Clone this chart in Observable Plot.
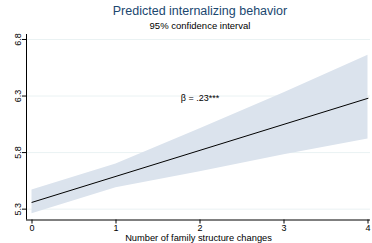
<!DOCTYPE html>
<html>
<head>
<meta charset="utf-8">
<script src="https://cdn.jsdelivr.net/npm/d3@7"></script>
<script src="https://cdn.jsdelivr.net/npm/@observablehq/plot@0.6"></script>
<style>
  html, body { margin: 0; padding: 0; background: #fff; }
  body { width: 372px; height: 243px; overflow: hidden; font-family: "Liberation Sans", Arial, sans-serif; }
  #title { height: 19px; line-height: 23px; padding-left: 28px; text-align: center; font-size: 12.5px; color: #1a476f; }
  #subtitle { height: 11px; line-height: 14px; padding-left: 28px; text-align: center; font-size: 9.5px; color: #000; }
  #chart svg { display: block; }
</style>
</head>
<body>
<div id="title">Predicted internalizing behavior</div>
<div id="subtitle">95% confidence interval</div>
<div id="chart"></div>
<script>
const changes = [0, 1, 2, 3, 4];
const predicted = [5.36, 5.59, 5.82, 6.05, 6.28];
const lower = [5.26, 5.49, 5.63, 5.78, 5.92];
const upper = [5.47, 5.70, 6.01, 6.33, 6.66];
const yTicks = [5.3, 5.8, 6.3, 6.8];
const xTicks = [0, 1, 2, 3, 4];
const annotation = "β = .23***";
const annotationAt = {x: 2, y: 6.28};
const xTitle = "Number of family structure changes";

const data = changes.map((c, i) => ({x: c, y: predicted[i], lo: lower[i], hi: upper[i]}));
const yMin = 5.204, yMax = 6.844;

const chart = Plot.plot({
  width: 372,
  height: 213,
  marginTop: 4,
  marginBottom: 23.5,
  marginLeft: 26,
  marginRight: 2,
  style: {fontFamily: "Liberation Sans, Arial, sans-serif", fontSize: "9px", color: "#000", background: "#fff"},
  x: {domain: [0, 4], insetLeft: 5.5, insetRight: 2.5},
  y: {domain: [yMin, yMax]},
  marks: [
    Plot.gridY(yTicks, {stroke: "#eaf2f3", strokeOpacity: 1, strokeWidth: 1}),
    Plot.areaY(data, {x: "x", y1: "lo", y2: "hi", fill: "#dbe3ed", fillOpacity: 1}),
    Plot.lineY(data, {x: "x", y: "y", stroke: "#000", strokeWidth: 1}),
    Plot.text([annotation], {x: annotationAt.x, y: annotationAt.y, text: d => d, fontSize: 9, fill: "#000"}),
    Plot.axisY(yTicks, {tickFormat: d => d.toFixed(1), tickSize: 4, tickPadding: 2, tickRotate: -90, label: null, stroke: "#000"}),
    Plot.axisX(xTicks, {tickFormat: d => String(d), tickSize: 4, tickPadding: 1, label: null, stroke: "#000"}),
    Plot.ruleX([0], {y1: yMin, y2: yMax, dx: -5.5, stroke: "#000"}),
    Plot.ruleY([yMin], {stroke: "#000"}),
    Plot.text([xTitle], {frameAnchor: "bottom", dy: 21, text: d => d, fontSize: 9.3, fill: "#000"})
  ]
});
document.getElementById("chart").appendChild(chart);
</script>
</body>
</html>
